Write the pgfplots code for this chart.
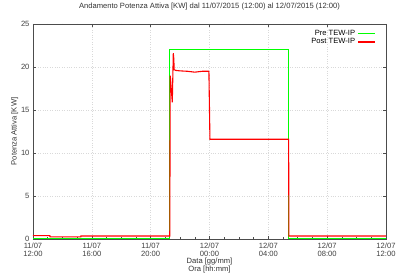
\documentclass[border=0pt]{standalone}
\usepackage{pgfplots}
\pgfplotsset{compat=1.18}
\usepackage{fontspec}
\setmainfont{Liberation Sans}
\definecolor{mygreen}{RGB}{0,255,0}
\definecolor{myred}{RGB}{255,0,0}
\begin{document}
\begin{tikzpicture}[x=1pt,y=1pt]
\path[use as bounding box] (0,0) rectangle (400,280);
\begin{axis}[
  at={(33pt,41pt)}, anchor=south west,
  scale only axis, width=353pt, height=215pt,
  xmin=0, xmax=24, ymin=0, ymax=25,
  xtick={0,4,8,12,16,20,24},
  xticklabels={{11/07\\12:00},{11/07\\16:00},{11/07\\20:00},{12/07\\00:00},{12/07\\04:00},{12/07\\08:00},{12/07\\12:00}},
  xticklabel style={align=center, font=\fontsize{7.6}{8.2}\selectfont, text=black!75},
  yticklabel style={font=\fontsize{7.6}{8.2}\selectfont, text=black!75},
  ytick={0,5,10,15,20,25},
  minor x tick num=3,
  tick align=inside, major tick length=3pt, minor tick length=1.5pt,
  tick style={black!70, line width=0.5pt},
  axis line style={black!70, line width=0.6pt},
  grid=major, major grid style={black!15, dotted, line width=0.4pt},
  /pgf/number format/assume math mode=true,
  title={Andamento Potenza Attiva [KW] dal 11/07/2015 (12:00) al 12/07/2015 (12:00)},
  title style={font=\fontsize{7.6}{8.2}\selectfont, text=black!80, at={(0.5,1)}, anchor=south, yshift=4pt},
  xlabel={Data [gg/mm]\\Ora [hh:mm]},
  xlabel style={align=center, font=\fontsize{7.6}{8.2}\selectfont, text=black!80, yshift=5pt},
  ylabel={Potenza Attiva [KW]},
  ylabel style={font=\fontsize{7.6}{8.2}\selectfont, text=black!80, yshift=-4pt},
  legend style={draw=none, fill=none, at={(0.98,0.99)}, anchor=north east,
    font=\fontsize{7.6}{7.8}\selectfont, row sep=-2.5pt},
  legend cell align=right, legend plot pos=right,
  legend image post style={line width=1.5pt},
]
\addplot[draw=mygreen, line width=1.1pt] coordinates {
 (0,0) (9.31,0) (9.31,22) (17.40,22) (17.40,0) (24,0)};
\addlegendentry{Pre TEW-IP}
\addplot[draw=myred, line width=1.1pt] coordinates {
 (0,0.4) (1.15,0.4) (1.16,0.25) (3.25,0.25) (3.26,0.35) (9.30,0.35)
 (9.33,19.0) (9.47,15.9) (9.54,21.6) (9.57,21.0) (9.60,19.7) (9.70,19.6)
 (10,19.55) (10.5,19.5) (11,19.4) (11.5,19.5) (11.96,19.5) (12.03,11.6)
 (17.38,11.6) (17.40,0.35) (24,0.35)};
\addlegendentry{Post TEW-IP}
\end{axis}
\end{tikzpicture}
\end{document}
